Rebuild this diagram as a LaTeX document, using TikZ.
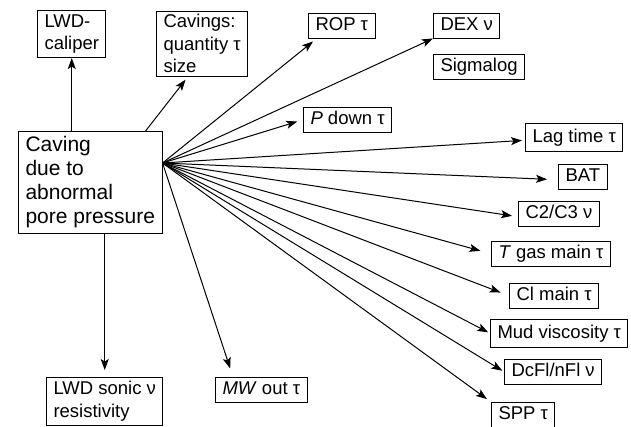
\documentclass[tikz,border=0pt]{standalone}
\usepackage{fontspec}
\setmainfont{Liberation Sans}
\usetikzlibrary{arrows.meta,calc}
\newcommand{\labfont}{\fontsize{18.5}{22.5}\selectfont}
\newcommand{\mainfont}{\fontsize{21}{24}\selectfont}
\tikzstyle{box} = [
  draw,
  line width=1pt,
  anchor=north west,
  align=left,
  inner xsep=7pt,
  inner ysep=3.5pt,
  font=\labfont,
]
\tikzstyle{one} = [
  box,
  text height=13.5pt,
  text depth=4pt,
]
\tikzstyle{arr} = [
  line width=1pt,
  -{Stealth[length=11pt,width=8pt,inset=2.5pt]},
]

\begin{document}
\begin{tikzpicture}[x=1pt,y=-1pt]
    \useasboundingbox (0,0) rectangle (631,426);

    % Cause
    \node[box, font=\mainfont, inner ysep=5pt] (main) at (18,131)
      {Caving\\due to\\abnormal\\pore pressure};
    \coordinate (hub) at ($(main.north east)+(0,32)$);

    % Boxes
    \node[box, inner ysep=4pt] (caliper) at (37,10) {LWD-\\caliper};
    \node[box, inner ysep=3pt] (cavings) at (156,11) {Cavings:\\quantity τ\\size};
    \node[one] (rop) at (308,13) {ROP τ};
    \node[one] (dex) at (433,13) {DEX ν};
    \node[one] (sigma) at (433,54) {Sigmalog};
    \node[one] (pdown) at (303,107) {\textit{P} down τ};
    \node[one, inner ysep=5pt] (lag) at (525,123) {Lag time τ};
    \node[one] (bat) at (558,164) {BAT};
    \node[one] (c23) at (518,201) {C2/C3 ν};
    \node[one] (tgas) at (491,241) {\textit{T} gas main τ};
    \node[one] (cl) at (509,283) {Cl main τ};
    \node[one, inner ysep=5pt] (mud) at (490,319) {Mud viscosity τ};
    \node[one] (dcfl) at (504,359) {DcFl/nFl ν};
    \node[one] (spp) at (491,402) {SPP τ};
    \node[one] (mw) at (215,377) {\textit{MW} out τ};
    \node[box, inner ysep=4pt] (sonic) at (46,377) {LWD sonic ν\\resistivity};

    % Arrows
    \draw[arr] (main.north -| caliper.south) -- (caliper.south);
    \draw[arr, shorten >=4pt] ([xshift=-17pt]main.north east) -- ([xshift=32pt]cavings.south west);
    \draw[arr] (hub) -- ([shift={(5,3)}]rop.south west);
    \draw[arr] (hub) -- (dex.south west);
    \draw[arr, shorten >=6pt] (hub) -- (pdown.west);
    \draw[arr, shorten >=3pt] (hub) -- ([shift={(0,3)}]lag.west);
    \draw[arr, shorten >=11pt] (hub) -- ([shift={(0,3)}]bat.west);
    \draw[arr, shorten >=6pt] (hub) -- ([shift={(0,3)}]c23.west);
    \draw[arr, shorten >=11pt] (hub) -- (tgas.west);
    \draw[arr, shorten >=9pt] (hub) -- (cl.west);
    \draw[arr, shorten >=2pt] (hub) -- (mud.west);
    \draw[arr, shorten >=2pt] (hub) -- (dcfl.west);
    \draw[arr, shorten >=5pt] (hub) -- (spp.north west);
    \draw[arr, shorten >=9pt] (hub) -- ([xshift=18pt]mw.north west);
    \draw[arr, shorten >=7pt] (main.south -| sonic.north) -- (sonic.north);
\end{tikzpicture}
\end{document}
